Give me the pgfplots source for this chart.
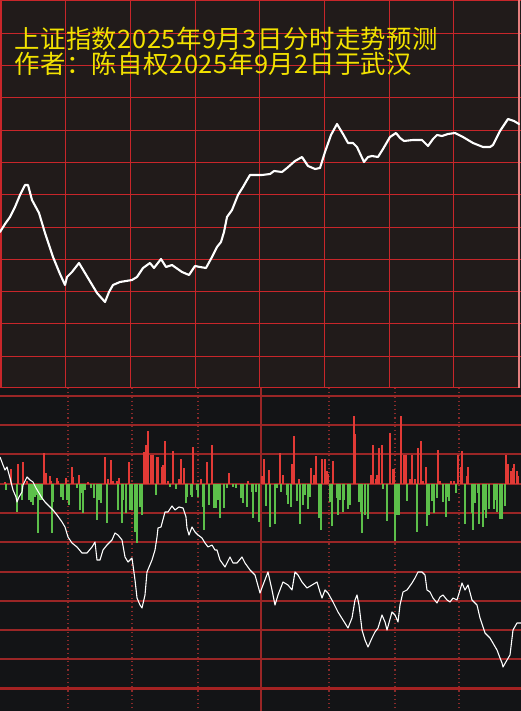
\documentclass[border=0pt]{standalone}
\usepackage{pgfplots}
\usepackage{pgfplotstable}
\pgfplotsset{compat=1.18}
\usepackage{fontspec}
\newfontfamily\cjk[LetterSpace=2]{Noto Sans CJK SC}
\definecolor{topbg}{HTML}{211B1A}
\definecolor{botbg}{HTML}{131416}
\definecolor{topgrid}{HTML}{C8262A}
\definecolor{botgrid}{HTML}{9A2626}
\definecolor{dotgrid}{HTML}{8A2A2A}
\definecolor{barred}{HTML}{E23A36}
\definecolor{bargreen}{HTML}{5CBF4A}
\definecolor{titleyellow}{HTML}{F2E200}
\definecolor{rightborder}{HTML}{E88080}

\pgfplotstableread{
x y
0 232
5 224
10 217
15 207
20 195
25 185
28 185
32 200
39 213
45 233
53 257
60 274
65 285
67 277
72 272
79 263
88 278
97 293
105 302
109 292
113 285
120 282
132 280
137 277
143 268
150 263
154 268
161 259
166 267
172 265
182 272
189 275
195 266
200 267
206 268
212 257
217 247
221 242
224 232
227 217
232 210
238 195
243 187
247 180
250 175
262 175
270 174
274 171
282 172
287 168
295 161
302 157
308 166
315 169
320 168
325 152
331 135
337 124
343 134
348 143
353 143
357 147
364 162
368 157
372 156
378 157
383 149
390 137
396 133
400 138
404 141
413 140
422 140
428 146
433 139
437 135
442 136
448 134
455 133
463 137
473 143
483 147
490 147
493 145
500 131
508 119
514 121
519 124
}\topline

\pgfplotstableread{
x y
5 2
11 15
18 20
23 22
27 3
44 31
46 11
50 8
51 3
57 6
58 3
66 6
72 17
73 7
79 9
88 2
105 27
108 5
111 24
113 3
117 3
119 6
129 22
144 32
146 39
148 53
151 29
152 29
153 29
157 27
158 27
162 17
163 19
165 43
168 3
173 33
179 5
181 25
184 16
193 37
201 5
207 22
212 39
229 11
248 3
262 8
263 8
264 25
269 14
280 31
283 9
292 20
294 48
299 5
311 16
314 9
316 28
322 25
325 25
327 13
328 10
333 23
354 68
355 50
371 9
373 39
376 5
377 9
379 36
382 39
390 51
393 15
394 15
401 68
404 29
406 29
410 5
412 29
415 5
418 36
421 43
423 3
426 17
438 34
440 3
451 3
454 3
458 29
461 17
462 33
467 8
468 17
506 29
508 20
511 13
513 16
514 20
517 13
518 8
}\redbars

\pgfplotstableread{
x y
6 -6
17 -28
22 -16
29 -16
31 -18
33 -21
35 -13
37 -11
38 -49
40 -16
42 -16
52 -49
53 -18
61 -13
63 -16
67 -16
69 -21
77 -4
80 -26
82 -9
83 -29
85 -6
91 -4
94 -14
97 -36
99 -16
101 -19
107 -39
118 -26
122 -39
123 -16
126 -29
130 -26
132 -26
135 -48
137 -59
140 -23
142 -31
156 -11
170 -3
176 -5
186 -19
187 -13
191 -11
192 -13
197 -6
198 -13
203 -23
204 -46
209 -21
214 -24
216 -24
218 -16
220 -34
224 -24
227 -4
233 -3
236 -4
241 -14
243 -19
247 -23
252 -8
253 -34
256 -8
259 -38
266 -22
270 -43
275 -40
277 -4
281 -8
287 -11
288 -20
291 -23
297 -17
300 -40
303 -21
305 -11
308 -25
310 -13
319 -34
321 -46
330 -18
332 -42
337 -14
338 -31
340 -16
343 -28
344 -16
348 -25
350 -21
359 -18
361 -28
362 -49
365 -31
368 -35
383 -5
387 -37
395 -57
397 -31
399 -31
407 -17
417 -48
427 -42
429 -31
432 -17
434 -29
437 -14
443 -18
446 -33
447 -13
449 -17
456 -9
465 -40
472 -29
473 -46
475 -19
478 -9
479 -40
483 -43
484 -26
486 -34
489 -25
494 -25
496 -16
497 -28
500 -35
502 -35
505 -22
}\greenbars

\pgfplotstableread{
x y
0 457
3 465
5 470
7 467
10 478
13 490
16 497
17 502
19 497
22 492
23 485
27 477
30 480
33 482
36 488
42 498
45 502
50 507
53 510
57 515
62 522
65 527
68 537
72 543
77 547
82 553
87 553
92 547
95 542
97 560
100 560
103 550
107 545
112 540
115 533
118 535
122 540
125 557
128 562
132 558
135 580
137 598
140 605
142 608
145 595
147 572
152 560
155 550
157 537
158 528
161 527
165 512
168 512
172 506
175 510
179 507
183 508
186 517
187 528
189 535
192 527
195 532
198 535
202 538
205 543
208 547
212 545
215 550
217 550
220 560
225 567
230 557
233 563
237 563
242 557
245 563
250 570
255 575
260 593
263 585
268 572
272 590
275 605
278 595
283 582
288 585
292 590
295 572
298 575
302 582
307 588
312 585
317 582
320 592
322 598
325 590
328 593
333 602
338 612
343 620
348 628
352 618
355 600
357 595
359 605
362 630
365 640
368 647
372 638
375 632
378 628
382 615
385 622
387 630
392 612
395 615
398 622
400 605
403 592
407 590
412 583
415 578
418 572
422 572
425 575
427 590
430 592
433 598
437 603
440 597
443 595
447 600
450 602
453 598
457 600
460 590
462 583
465 590
468 585
472 600
477 605
480 618
485 633
490 638
497 650
500 658
502 663
503 667
507 660
510 655
513 630
517 623
521 623
}\botline

\begin{document}
\begin{tikzpicture}
\useasboundingbox (0bp,0bp) rectangle (521bp,711bp);
\fill[botbg] (0bp,0bp) rectangle (521bp,711bp);

% ---------------- top panel ----------------
\begin{axis}[
  at={(0bp,323bp)}, anchor=south west,
  scale only axis, width=521bp, height=388bp,
  xmin=0, xmax=521, ymin=0, ymax=388, y dir=reverse,
  axis background/.style={fill=topbg},
  axis line style={draw=none},
  xtick={65.5,130.5,195.5,259.5,324.5,389.5,453.5},
  ytick={33.5,65.5,97.5,130.5,162.5,194.5,227.5,259.5,291.5,323.5,356.5},
  xticklabels={}, yticklabels={},
  major tick length=0pt,
  grid=major,
  major grid style={draw=topgrid, line width=1.3bp},
  clip=false,
]
\draw[topgrid, line width=1.5bp] (axis cs:0,0.75) -- (axis cs:521,0.75);
\draw[topgrid, line width=1.5bp] (axis cs:0.75,0) -- (axis cs:0.75,388);
\draw[topgrid, line width=1.5bp] (axis cs:0,387.25) -- (axis cs:519,387.25);
\draw[rightborder, line width=1.6bp] (axis cs:519.2,0) -- (axis cs:519.2,388);
\addplot[white, line width=2.1bp, line join=round, line cap=round] table[x=x,y=y] {\topline};
\node[anchor=west, inner sep=0pt, text=titleyellow,
      font=\cjk\fontsize{25.5}{26}\selectfont] at (axis cs:14,39) {上证指数2025年9月3日分时走势预测};
\node[anchor=west, inner sep=0pt, text=titleyellow,
      font=\cjk\fontsize{25.5}{26}\selectfont] at (axis cs:14,64) {作者：陈自权2025年9月2日于武汉};
\end{axis}

% ---------------- bottom panel ----------------
\begin{axis}[
  at={(0bp,0bp)}, anchor=south west,
  scale only axis, width=521bp, height=323bp,
  xmin=0, xmax=521, ymin=-227, ymax=96,
  axis background/.style={fill=botbg},
  axis line style={draw=none},
  xtick=\empty,
  ytick={88,59,30,0,-29,-58,-88,-117,-146,-175},
  yticklabels={},
  major tick length=0pt,
  ymajorgrids,
  major grid style={draw=botgrid, line width=1.2bp},
  clip=false,
]
\foreach \xx in {68,132,198,329,395,459}{
  \edef\temp{\noexpand\draw[dotgrid, line width=1.2bp, dash pattern=on 1.2bp off 3bp] (axis cs:\xx,96) -- (axis cs:\xx,-227);}
  \temp
}
\draw[botgrid, line width=1.3bp] (axis cs:261,96) -- (axis cs:261,-227);
\draw[botgrid!90!red, line width=3bp] (axis cs:0,-205) -- (axis cs:521,-205);
\addplot[ycomb, draw=barred, line width=1.8bp] table[x=x,y=y] {\redbars};
\addplot[ycomb, draw=bargreen, line width=1.8bp] table[x=x,y=y] {\greenbars};
\addplot[white, line width=1.1bp, line join=round] table[x=x, y expr=484-\thisrow{y}] {\botline};
\end{axis}
\end{tikzpicture}
\end{document}
